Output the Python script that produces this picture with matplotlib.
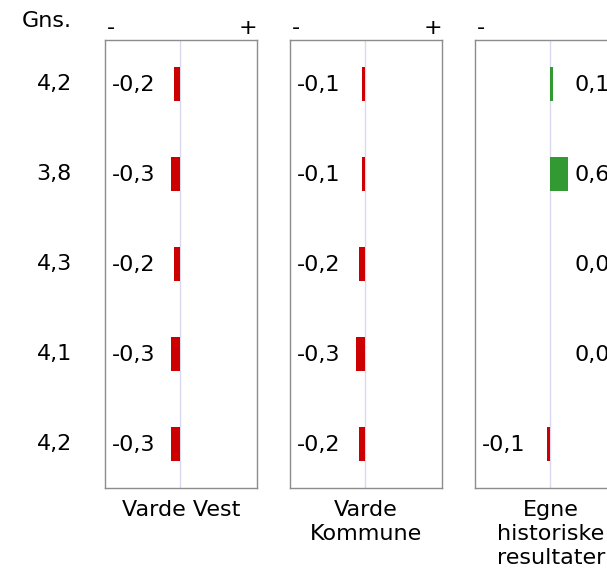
import numpy as np
import matplotlib.pyplot as plt
from matplotlib.transforms import blended_transform_factory

plt.rcParams['font.family'] = ['DejaVu Sans']

# data
panel_titles = ['Varde Vest', 'Varde\nKommune', 'Egne\nhistoriske\nresultater']
gns = [4.2, 3.8, 4.3, 4.1, 4.2]
varde_vest = [-0.2, -0.3, -0.2, -0.3, -0.3]
varde_kommune = [-0.1, -0.1, -0.2, -0.3, -0.2]
egne_hist = [0.1, 0.6, 0.0, 0.0, -0.1]
series = [varde_vest, varde_kommune, egne_hist]

RED = '#cc0000'
GREEN = '#339933'
FS = 16


def fmt(v):
    return f'{v:.1f}'.replace('.', ',')


W, H = 607, 570
fig = plt.figure(figsize=(W / 100, H / 100), dpi=100)

panel_left = [105, 290, 475]
panel_w = 152
top, bottom = 40, 488
rows = np.arange(len(gns))

axes = []
for i, vals in enumerate(series):
    ax = fig.add_axes([panel_left[i] / W, 1 - bottom / H, panel_w / W, (bottom - top) / H])
    ax.set_xlim(-2.5, 2.57)
    ax.set_ylim(4.49, -0.49)
    ax.axvline(0, color='#d8d8f0', lw=1, zorder=1)
    colors = [GREEN if v > 0 else RED for v in vals]
    ax.barh(rows, vals, height=0.37, color=colors, zorder=2)
    for r, v in zip(rows, vals):
        # text centre sits a touch high, nudge down slightly
        if v < 0:
            ax.annotate(fmt(v), xy=(0, r), xytext=(-18, -1), textcoords='offset points',
                        ha='right', va='center', fontsize=FS)
        else:
            ax.annotate(fmt(v), xy=(0, r), xytext=(18, -1), textcoords='offset points',
                        ha='left', va='center', fontsize=FS)
    ax.set_xticks([])
    ax.set_yticks([])
    for s in ax.spines.values():
        s.set_color('#8c8c8c')
        s.set_linewidth(1)
    ax.text(0.015, 1.027, '-', transform=ax.transAxes, ha='left', va='center', fontsize=FS)
    ax.text(1.0, 1.027, '+', transform=ax.transAxes, ha='right', va='center', fontsize=FS)
    ax.annotate(panel_titles[i], xy=(0.5, 0), xycoords='axes fraction', xytext=(0, -9),
                textcoords='offset points', ha='center', va='top', fontsize=FS,
                linespacing=1.24)
    axes.append(ax)

# average column
tr = blended_transform_factory(fig.transFigure, axes[0].transData)
for r, g in zip(rows, gns):
    fig.text(72 / W, r, fmt(g), transform=tr, ha='right', va='center', fontsize=FS)
fig.text(72 / W, 1 - 21 / H, 'Gns.', ha='right', va='center', fontsize=FS)

fig.savefig('out.png', dpi=100)
